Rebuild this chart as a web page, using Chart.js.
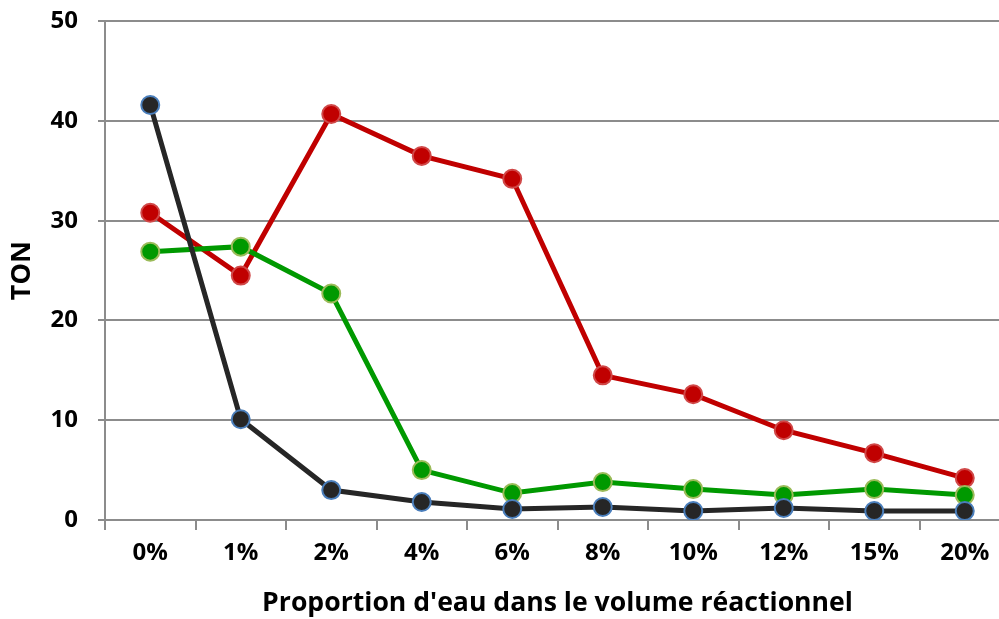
<!DOCTYPE html>
<html>
<head>
<meta charset="utf-8">
<script src="https://cdn.jsdelivr.net/npm/chart.js@4"></script>
<style>
  html, body { margin: 0; padding: 0; background: #fff; overflow: hidden; }
  #wrap { position: absolute; left: 0; top: 0; width: 1020px; height: 619px; }
</style>
</head>
<body>
<div id="wrap"><canvas id="chart"></canvas></div>
<script>
// ── Données ──
const categories = ['0%', '1%', '2%', '4%', '6%', '8%', '10%', '12%', '15%', '20%'];
const serieNoire = [41.6, 10.1, 3.0, 1.8, 1.1, 1.3, 0.9, 1.2, 0.9, 0.9];
const serieVerte = [26.9, 27.4, 22.7, 5.0, 2.7, 3.8, 3.1, 2.5, 3.1, 2.5];
const serieRouge = [30.8, 24.5, 40.7, 36.5, 34.2, 14.5, 12.6, 9.0, 6.7, 4.2];
const yTicks = [0, 10, 20, 30, 40, 50];

const gridGray = '#8c8c8c';
const font = 'Open Sans';

function serie(data, line, fill, border) {
    return {
        data,
        borderColor: line,
        borderWidth: 5,
        pointRadius: 9,
        pointHoverRadius: 9,
        pointBackgroundColor: fill,
        pointBorderColor: border,
        pointBorderWidth: 2,
        tension: 0,
        fill: false
    };
}

new Chart(document.getElementById('chart'), {
    type: 'line',
    data: {
        labels: categories,
        datasets: [
            serie(serieNoire, '#262626', '#262626', '#4a7ebb'),
            serie(serieVerte, '#009900', '#009900', '#9bbb59'),
            serie(serieRouge, '#c00000', '#c00000', '#d04848')
        ]
    },
    options: {
        responsive: true,
        maintainAspectRatio: false,
        animation: false,
        layout: { autoPadding: false, padding: { top: 0, right: 10, left: 0, bottom: 0 } },
        plugins: { legend: { display: false }, tooltip: { enabled: false } },
        scales: {
            x: {
                offset: true,
                grid: { offset: true, drawOnChartArea: false, color: gridGray, lineWidth: 2, tickLength: 10 },
                border: { color: gridGray, width: 2 },
                ticks: { color: '#000', padding: 9, font: { family: font, size: 24, weight: 'bold' } },
                title: {
                    display: true,
                    text: "Proportion d'eau dans le volume réactionnel",
                    color: '#000',
                    padding: { top: 0, bottom: 0 },
                    font: { family: font, size: 26.6, weight: 'bold' }
                },
                afterFit: s => { s.height = 99; }
            },
            y: {
                min: 0,
                max: 50,
                afterBuildTicks: s => { s.ticks = yTicks.map(v => ({ value: v })); },
                grid: { color: gridGray, lineWidth: 2, tickLength: 7 },
                border: { color: gridGray, width: 2 },
                ticks: { color: '#000', padding: 20, font: { family: font, size: 24, weight: 'bold', lineHeight: 0.1 } },
                title: {
                    display: true,
                    text: 'TON',
                    color: '#000',
                    padding: { top: 6, bottom: 0 },
                    font: { family: font, size: 27, weight: 'bold' }
                },
                afterFit: s => { s.width = 105; }
            }
        }
    }
});
</script>
</body>
</html>
